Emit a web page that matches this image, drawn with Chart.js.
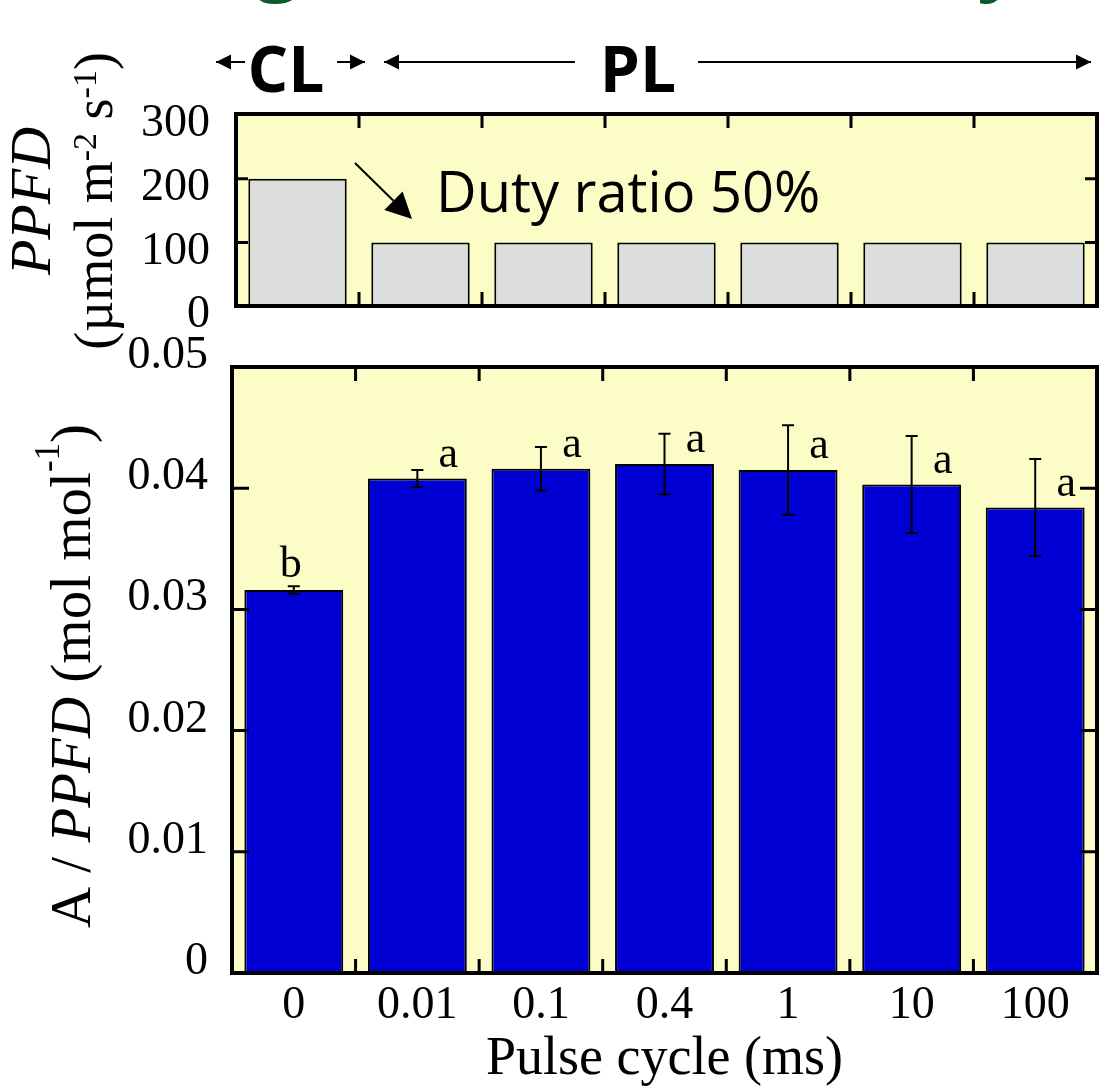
<!DOCTYPE html>
<html>
<head>
<meta charset="utf-8">
<script src="https://cdn.jsdelivr.net/npm/chart.js@4.4.1/dist/chart.umd.min.js"></script>
<style>
  html, body { margin: 0; padding: 0; background: #fff; }
  #wrap { position: relative; width: 1100px; height: 1088px; overflow: hidden; }
  canvas { position: absolute; left: 0; }
  #ratio { top: 315px; }
  #ppfd { top: 0; z-index: 2; }
</style>
</head>
<body>
<div id="wrap">
  <canvas id="ratio" width="1100" height="773"></canvas>
  <canvas id="ppfd" width="1100" height="360"></canvas>
</div>
<script>
// pulse cycle categories (ms), 0 = continuous light
const cycles = ['0', '0.01', '0.1', '0.4', '1', '10', '100'];
// light intensity during the light phase
const ppfd = [200, 100, 100, 100, 100, 100, 100];
const ppfdTicks = [0, 100, 200, 300];
// A / PPFD means, SE and significance letters
const ratio = [0.0316, 0.0408, 0.0416, 0.0420, 0.0415, 0.0403, 0.0384];
const ratioErr = [0.0003, 0.0007, 0.0018, 0.0025, 0.0037, 0.0040, 0.0040];
const letters = ['b', 'a', 'a', 'a', 'a', 'a', 'a'];
const ratioTicks = [0, 0.01, 0.02, 0.03, 0.04, 0.05];

const SERIF = "'Liberation Serif', 'Times New Roman', serif";
const SANS = "'Open Sans', 'Noto Sans', sans-serif";
const PANEL = '#fcfcc6';

// yellow plot background + thick frame with inward ticks
const framePlugin = {
    id: 'frame',
    beforeDatasetsDraw(chart) {
        const a = chart.chartArea;
        chart.ctx.save();
        chart.ctx.fillStyle = PANEL;
        chart.ctx.fillRect(a.left, a.top, a.width, a.height);
        chart.ctx.restore();
    },
    afterDatasetsDraw(chart, args, opts) {
        const { ctx, chartArea: a, scales: { x, y } } = chart;
        ctx.save();
        ctx.strokeStyle = '#000';
        ctx.lineWidth = 3;
        ctx.beginPath();
        for (let i = 1; i < cycles.length; i++) {
            const px = (x.getPixelForValue(i - 1) + x.getPixelForValue(i)) / 2;
            ctx.moveTo(px, a.top); ctx.lineTo(px, a.top + opts.tx);
            ctx.moveTo(px, a.bottom); ctx.lineTo(px, a.bottom - opts.tx);
        }
        opts.inner.forEach(v => {
            const py = y.getPixelForValue(v);
            ctx.moveTo(a.left, py); ctx.lineTo(a.left + opts.ty, py);
            ctx.moveTo(a.right, py); ctx.lineTo(a.right - opts.ty, py);
        });
        ctx.stroke();
        ctx.lineWidth = 4;
        ctx.strokeRect(a.left, a.top, a.width, a.height);
        ctx.restore();
    }
};

// vertical title with italic / superscript parts
function drawRotated(ctx, parts, baseX, centerY, size, supSize, raise) {
    ctx.save();
    ctx.translate(baseX, centerY);
    ctx.rotate(-Math.PI / 2);
    const fontOf = p => `${p.italic ? 'italic ' : ''}${p.sup ? supSize : size}px ${SERIF}`;
    let total = 0;
    parts.forEach(p => { ctx.font = fontOf(p); p.w = ctx.measureText(p.t).width; total += p.w; });
    let pos = -total / 2;
    ctx.fillStyle = '#000';
    ctx.textBaseline = 'alphabetic';
    ctx.textAlign = 'left';
    parts.forEach(p => {
        ctx.font = fontOf(p);
        ctx.fillText(p.t, pos, p.sup ? -raise : 0);
        pos += p.w;
    });
    ctx.restore();
}

function arrowHead(ctx, x, y, dir) {
    ctx.beginPath();
    ctx.moveTo(x, y);
    ctx.lineTo(x - dir * 15, y - 7.5);
    ctx.lineTo(x - dir * 15, y + 7.5);
    ctx.closePath();
    ctx.fill();
}

const ppfdDecor = {
    id: 'ppfdDecor',
    afterDraw(chart) {
        const ctx = chart.ctx;
        ctx.save();
        // cut-off heading above the figure
        ctx.fillStyle = '#0b5a2c';
        ctx.font = `bold 80px ${SANS}`;
        ctx.textAlign = 'center';
        ctx.fillText('g', 278, -15);
        ctx.fillText('y', 1000, -15);

        // CL / PL span markers
        ctx.fillStyle = '#000';
        ctx.strokeStyle = '#000';
        ctx.lineWidth = 2;
        const yA = 62;
        [[216, 245, -1], [337, 365, 1], [384, 575, -1], [698, 1091, 1]].forEach(([x0, x1, dir]) => {
            ctx.beginPath();
            ctx.moveTo(x0, yA); ctx.lineTo(x1, yA);
            ctx.stroke();
            arrowHead(ctx, dir < 0 ? x0 : x1, yA, dir);
        });
        ctx.font = `bold 64px ${SANS}`;
        ctx.textBaseline = 'alphabetic';
        ctx.fillText('CL', 286, 92);
        ctx.fillText('PL', 638, 92);

        // duty ratio note
        ctx.textAlign = 'left';
        ctx.font = `56px ${SANS}`;
        ctx.fillText('Duty ratio 50%', 436, 212);
        const tip = [412, 219], from = [355, 163];
        const dx = tip[0] - from[0], dy = tip[1] - from[1], len = Math.hypot(dx, dy);
        const ux = dx / len, uy = dy / len;
        const bx = tip[0] - 26 * ux, by = tip[1] - 26 * uy;
        ctx.beginPath();
        ctx.moveTo(from[0], from[1]); ctx.lineTo(bx, by);
        ctx.stroke();
        ctx.beginPath();
        ctx.moveTo(tip[0], tip[1]);
        ctx.lineTo(bx - 13 * uy, by + 13 * ux);
        ctx.lineTo(bx + 13 * uy, by - 13 * ux);
        ctx.closePath();
        ctx.fill();
        ctx.restore();

        drawRotated(ctx, [{ t: 'PPFD', italic: true }], 50, 201, 58, 34, 0);
        drawRotated(ctx, [
            { t: '(\u00b5mol m' }, { t: '-2', sup: true }, { t: ' s' }, { t: '-1', sup: true }, { t: ')' }
        ], 112, 201, 54, 34, 16);
    }
};

const ratioDecor = {
    id: 'ratioDecor',
    afterDatasetsDraw(chart) {
        const { ctx, scales: { x, y } } = chart;
        ctx.save();
        ctx.strokeStyle = '#000';
        ctx.lineWidth = 2;
        ratio.forEach((v, i) => {
            const cx = x.getPixelForValue(i);
            const hi = y.getPixelForValue(v + ratioErr[i]);
            const lo = y.getPixelForValue(v - ratioErr[i]);
            ctx.beginPath();
            ctx.moveTo(cx, hi); ctx.lineTo(cx, lo);
            ctx.moveTo(cx - 6, hi); ctx.lineTo(cx + 6, hi);
            ctx.moveTo(cx - 6, lo); ctx.lineTo(cx + 6, lo);
            ctx.stroke();
        });
        ctx.fillStyle = '#000';
        ctx.font = `44px ${SERIF}`;
        ctx.textAlign = 'center';
        ctx.textBaseline = 'alphabetic';
        letters.forEach((t, i) => {
            const cx = x.getPixelForValue(i);
            if (i === 0) ctx.fillText(t, cx - 3, y.getPixelForValue(ratio[i] + ratioErr[i]) - 9);
            else ctx.fillText(t, cx + 31, y.getPixelForValue(ratio[i]) - 12);
        });
        ctx.restore();
    },
    afterDraw(chart) {
        drawRotated(chart.ctx, [
            { t: 'A / ' }, { t: 'PPFD', italic: true }, { t: ' (mol mol' }, { t: '-1', sup: true }, { t: ')' }
        ], 90, 361, 57, 35, 31);
    }
};

const common = {
    responsive: false,
    animation: false,
    events: [],
    plugins: { legend: { display: false }, tooltip: { enabled: false } }
};

new Chart(document.getElementById('ppfd'), {
    type: 'bar',
    data: {
        labels: cycles,
        datasets: [{
            data: ppfd,
            backgroundColor: '#dcdedd',
            borderColor: '#000',
            borderWidth: 2,
            borderSkipped: false,
            barPercentage: 0.8,
            categoryPercentage: 1
        }]
    },
    options: {
        ...common,
        layout: { padding: { top: 114, bottom: 54, left: 0, right: 3 } },
        plugins: { ...common.plugins, frame: { inner: [100, 200], tx: 14, ty: 12 } },
        scales: {
            x: {
                ticks: { display: false },
                grid: { display: false, drawTicks: false },
                border: { display: false },
                afterFit: s => { s.height = 0; }
            },
            y: {
                min: 0,
                max: 302,
                afterBuildTicks: s => { s.ticks = ppfdTicks.map(v => ({ value: v })); },
                afterFit: s => { s.width = 236; },
                ticks: {
                    font: { family: SERIF, size: 46 },
                    color: '#000',
                    padding: 26,
                    labelOffset: 9,
                    callback: v => String(v)
                },
                grid: { display: false, drawTicks: false },
                border: { display: false }
            }
        }
    },
    plugins: [framePlugin, ppfdDecor]
});

new Chart(document.getElementById('ratio'), {
    type: 'bar',
    data: {
        labels: cycles,
        datasets: [{
            data: ratio,
            backgroundColor: '#0000d4',
            borderColor: '#000',
            borderWidth: 2,
            borderSkipped: false,
            barPercentage: 0.8,
            categoryPercentage: 1
        }]
    },
    options: {
        ...common,
        layout: { padding: { top: 52, bottom: 0, left: 0, right: 3 } },
        plugins: { ...common.plugins, frame: { inner: [0.01, 0.02, 0.03, 0.04], tx: 14, ty: 17 } },
        scales: {
            x: {
                ticks: { font: { family: SERIF, size: 46 }, color: '#000', padding: 5 },
                grid: { display: false, drawTicks: false },
                border: { display: false },
                title: {
                    display: true,
                    text: 'Pulse cycle (ms)',
                    color: '#000',
                    font: { family: SERIF, size: 54, lineHeight: 1 },
                    padding: { top: 0, bottom: 1 }
                },
                afterFit: s => { s.height = 115; }
            },
            y: {
                min: 0,
                max: 0.05,
                afterBuildTicks: s => { s.ticks = ratioTicks.map(v => ({ value: v })); },
                afterFit: s => { s.width = 232; },
                ticks: {
                    font: { family: SERIF, size: 46 },
                    color: '#000',
                    padding: 24,
                    labelOffset: -11,
                    callback: v => (v === 0 ? '0' : v.toFixed(2))
                },
                grid: { display: false, drawTicks: false },
                border: { display: false }
            }
        }
    },
    plugins: [framePlugin, ratioDecor]
});
</script>
</body>
</html>
